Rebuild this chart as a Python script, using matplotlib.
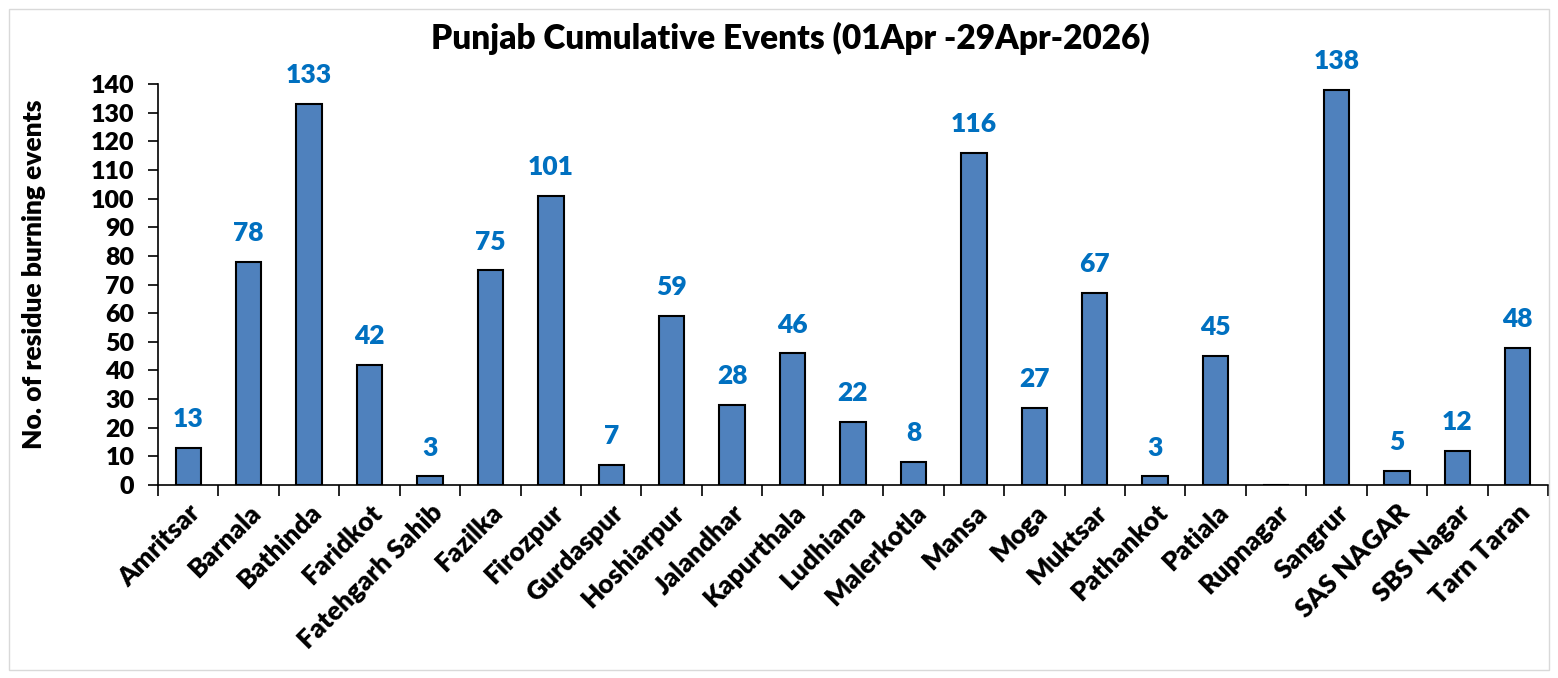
import matplotlib.pyplot as plt
import numpy as np

plt.rcParams['font.family'] = ['Lato', 'DejaVu Sans']
plt.rcParams['font.weight'] = 'heavy'

districts = ['Amritsar', 'Barnala', 'Bathinda', 'Faridkot', 'Fatehgarh Sahib', 'Fazilka',
             'Firozpur', 'Gurdaspur', 'Hoshiarpur', 'Jalandhar', 'Kapurthala', 'Ludhiana',
             'Malerkotla', 'Mansa', 'Moga', 'Muktsar', 'Pathankot', 'Patiala', 'Rupnagar',
             'Sangrur', 'SAS NAGAR', 'SBS Nagar', 'Tarn Taran']
events = [13, 78, 133, 42, 3, 75, 101, 7, 59, 28, 46, 22, 8, 116, 27, 67, 3, 45, 0,
          138, 5, 12, 48]
yticks = list(range(0, 141, 10))

fig = plt.figure(figsize=(15.58, 6.78), dpi=100)
ax = fig.add_axes([158/1558, 1 - 485/678, (1548 - 158)/1558, (485 - 84)/678])

x = np.arange(len(districts))
bars = ax.bar(x, events, width=0.42, color='#4F81BD', edgecolor='black', linewidth=1.5)

for xi, v in zip(x, events):
    if v > 0:
        ax.annotate(str(v), (xi, v), xytext=(0, 12), textcoords='offset points',
                    ha='center', va='bottom', fontsize=19, fontweight='heavy', color='#0070C0')

ax.set_xlim(-0.5, len(districts) - 0.5)
ax.set_ylim(0, 140)
ax.set_yticks(yticks)
ax.tick_params(axis='y', labelsize=18, length=7, width=1.2, direction='out', pad=10)
ax.set_xticks(np.arange(-0.5, len(districts), 1), minor=False)
ax.set_xticklabels([])
ax.set_xticks(x, minor=True)
ax.set_xticklabels(districts, minor=True, rotation=45, ha='right', rotation_mode='anchor',
                   fontsize=19, fontweight='heavy')
ax.tick_params(axis='x', which='major', length=8, width=1.2, direction='out')
ax.tick_params(axis='x', which='minor', length=0, pad=11)
for lbl in ax.get_yticklabels():
    lbl.set_fontweight('heavy')

ax.spines['top'].set_visible(False)
ax.spines['right'].set_visible(False)
ax.spines['left'].set_linewidth(1.2)
ax.spines['bottom'].set_linewidth(1.2)

ax.set_ylabel('No. of residue burning events', fontsize=19, fontweight='heavy')
ax.yaxis.set_label_coords((46 - 158)/1390, 0.526)
fig.text(790/1558, 1 - 38/678, 'Punjab Cumulative Events (01Apr -29Apr-2026)',
         ha='center', va='center', fontsize=24, fontweight='heavy')

border = plt.Rectangle((9/1558, 8/678), 1540/1558, 661/678, transform=fig.transFigure,
                       fill=False, edgecolor='#D9D9D9', linewidth=1)
fig.patches.append(border)

fig.savefig('out.png', dpi=100, facecolor='white')
